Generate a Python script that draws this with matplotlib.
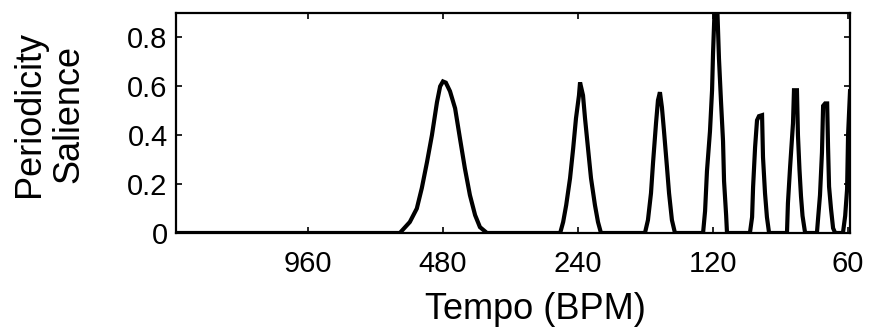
import matplotlib
matplotlib.use("Agg")
import matplotlib.pyplot as plt
from matplotlib.ticker import FixedLocator, FixedFormatter, NullLocator

plt.rcParams['font.family'] = ['Liberation Sans', 'DejaVu Sans']

# Periodicity salience curve, sampled along the tempo axis (BPM, high to low)
tempo_bpm = [
    1890, 599,
    569, 549, 535, 521, 508, 495, 487, 480, 473, 463, 451, 440, 429, 418, 407, 397, 383,
    263, 259, 255, 250, 246, 242.5, 238.8, 237.5, 233.9, 231.5, 228, 224.5, 220, 216.6, 213.3,
    170.2, 167.6, 165, 163.3, 160.8, 159.2, 157.6, 156, 154.4, 152, 150.4, 148.2, 145.9,
    126.3, 125, 123.8, 121.9, 120.6, 120, 118.8, 117.6, 116.4, 115.2, 114, 113.4, 112.2, 111.7,
    99.3, 98.2, 97.7, 96.7, 95.75, 94.8, 93.3, 92.85, 91.9, 91, 90,
    82.1, 81.7, 80.8, 79.6, 79.2, 78, 77.6, 77, 76.4, 75.8, 74.8,
    70.4, 70, 69.3, 68.6, 68.2, 67.5, 66.8, 66.5, 66.15, 65.5, 64.8, 64.1,
    61.6, 60.9, 60.3, 60.0, 59.4,
]
salience = [
    0, 0,
    0.045, 0.10, 0.184, 0.29, 0.40, 0.535, 0.60, 0.62, 0.615, 0.58, 0.51, 0.388, 0.265, 0.155, 0.073, 0.024, 0,
    0, 0.045, 0.114, 0.224, 0.347, 0.469, 0.563, 0.616, 0.563, 0.469, 0.347, 0.224, 0.114, 0.045, 0,
    0, 0.053, 0.163, 0.286, 0.449, 0.543, 0.576, 0.514, 0.42, 0.269, 0.163, 0.053, 0,
    0, 0.09, 0.253, 0.416, 0.584, 0.735, 0.96, 0.96, 0.714, 0.539, 0.376, 0.212, 0.073, 0,
    0, 0.065, 0.188, 0.351, 0.461, 0.478, 0.482, 0.31, 0.163, 0.065, 0,
    0, 0.122, 0.269, 0.449, 0.584, 0.584, 0.40, 0.26, 0.15, 0.07, 0,
    0, 0.057, 0.155, 0.33, 0.52, 0.53, 0.53, 0.355, 0.19, 0.10, 0.02, 0,
    0, 0.07, 0.18, 0.40, 0.58,
]

x_ticks = [960, 480, 240, 120, 60]
x_tick_labels = ['960', '480', '240', '120', '60']
y_ticks = [0, 0.2, 0.4, 0.6, 0.8]
y_tick_labels = ['0', '0.2', '0.4', '0.6', '0.8']

fig = plt.figure(figsize=(8.72, 3.29), dpi=100)
ax = fig.add_axes([0.2018, 0.2918, 0.7730, 0.6687])

ax.plot(tempo_bpm, salience, color='black', linewidth=3.0, solid_joinstyle='miter')

ax.set_xscale('log')
ax.set_xlim(1890, 59.4)
ax.set_ylim(0, 0.9)

ax.xaxis.set_major_locator(FixedLocator(x_ticks))
ax.xaxis.set_major_formatter(FixedFormatter(x_tick_labels))
ax.xaxis.set_minor_locator(NullLocator())
ax.yaxis.set_major_locator(FixedLocator(y_ticks))
ax.yaxis.set_major_formatter(FixedFormatter(y_tick_labels))

ax.tick_params(axis='both', which='major', direction='in', length=4, width=1.2,
               top=True, right=True, labelsize=21, color='black')
ax.tick_params(axis='x', pad=12)
ax.tick_params(axis='y', pad=6)

for s in ax.spines.values():
    s.set_linewidth(1.6)
    s.set_color('black')

ax.set_xlabel('Tempo (BPM)', fontsize=26)
ax.xaxis.set_label_coords(0.533, -0.27)
ax.set_ylabel('Periodicity\nSalience', fontsize=26, linespacing=1.15)
ax.yaxis.set_label_coords(-0.133, 0.54)

fig.savefig('out.png', dpi=100)
